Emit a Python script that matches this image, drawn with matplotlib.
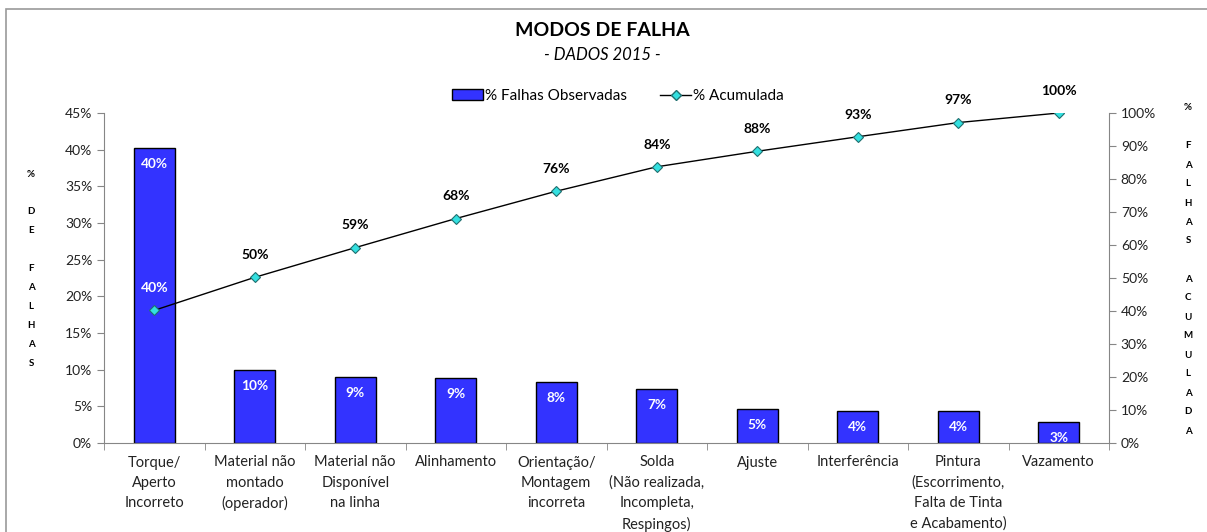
#gráfico de pareto - modos de falha
import matplotlib.pyplot as plt
from matplotlib.patches import Rectangle, Patch
from matplotlib.lines import Line2D
import numpy as np

categorias = [
    "Torque/\nAperto\nIncorreto",
    "Material não\nmontado\n(operador)",
    "Material não\nDisponível\nna linha",
    "Alinhamento",
    "Orientação/\nMontagem\nincorreta",
    "Solda\n(Não realizada,\nIncompleta,\nRespingos)",
    "Ajuste",
    "Interferência",
    "Pintura\n(Escorrimento,\nFalta de Tinta\ne Acabamento)",
    "Vazamento",
]
falhas_pct = [40.2, 10.0, 9.0, 8.8, 8.3, 7.4, 4.7, 4.4, 4.3, 2.9]
acumulada_pct = [40.2, 50.2, 59.2, 68.0, 76.3, 83.7, 88.4, 92.8, 97.1, 100.0]

plt.rcParams["font.family"] = ["Lato", "DejaVu Sans"]

fig = plt.figure(figsize=(12.07, 5.32), dpi=100)
ax = fig.add_axes([104 / 1207, 1 - 443 / 532, (1109 - 104) / 1207, (443 - 113) / 532])
ax2 = ax.twinx()

x = np.arange(len(categorias))
bars = ax.bar(x, falhas_pct, width=0.41, color="#3333FF", edgecolor="black", linewidth=1.0, zorder=2)
ax.set_xlim(-0.5, len(categorias) - 0.5)
ax.set_ylim(0, 45)
ax.set_yticks(np.arange(0, 46, 5))
ax.set_yticklabels([f"{v}%" for v in range(0, 46, 5)])

#rótulos brancos dentro das barras
for b, v in zip(bars, falhas_pct):
    ax.annotate(f"{v:.0f}%", (b.get_x() + b.get_width() / 2, v), xytext=(0, -11.5),
                textcoords="offset points", ha="center", va="center",
                color="white", fontsize=9.8, fontweight="bold")

ax2.plot(x, acumulada_pct, color="black", linewidth=1.0, marker="D", markersize=5.5,
         markerfacecolor="#33E0E0", markeredgecolor="#1f6f6f", markeredgewidth=0.8, zorder=3)
ax2.set_ylim(0, 100)
ax2.set_yticks(np.arange(0, 101, 10))
ax2.set_yticklabels([f"{v}%" for v in range(0, 101, 10)])
for i, v in enumerate(acumulada_pct):
    ax2.annotate(f"{v:.0f}%", (i, v), xytext=(0, 16), textcoords="offset points",
                 ha="center", va="center", fontsize=10, fontweight="bold",
                 color="white" if i == 0 else "black")

#eixo x estilo excel: marcas entre categorias
ax.set_xticks(x)
ax.set_xticklabels(categorias, fontsize=10.5, linespacing=1.55, va="top")
ax.set_xticks(np.arange(-0.5, len(categorias), 1.0), minor=True)
ax.tick_params(axis="x", which="major", length=0, pad=9, colors="#222222")
ax.tick_params(axis="x", which="minor", length=5, color="#868686", direction="out")
ax.tick_params(axis="y", length=5, color="#868686", labelsize=10, labelcolor="#222222")
ax2.tick_params(axis="y", length=5, color="#868686", labelsize=10, labelcolor="#222222")

for a in (ax, ax2):
    a.spines["top"].set_visible(False)
    for s in ("left", "right", "bottom"):
        a.spines[s].set_color("#868686")
ax.spines["right"].set_visible(False)
ax2.spines["left"].set_visible(False)
ax2.spines["bottom"].set_visible(False)

#títulos
fig.text(0.499, 1 - 30 / 532, "MODOS DE FALHA", ha="center", va="center", fontsize=14, fontweight="bold")
fig.text(0.499, 1 - 55 / 532, "- DADOS 2015 -", ha="center", va="center", fontsize=12, style="italic")

handles = [
    Patch(facecolor="#3333FF", edgecolor="black", linewidth=1.0, label="% Falhas Observadas"),
    Line2D([], [], color="black", linewidth=1.0, marker="D", markersize=5.5,
           markerfacecolor="#33E0E0", markeredgecolor="#1f6f6f", label="% Acumulada"),
]
fig.legend(handles=handles, loc="center", bbox_to_anchor=(0.512, 1 - 96 / 532), ncol=2,
           frameon=False, fontsize=11, handlelength=2.0, handletextpad=0.15, columnspacing=2.2)

#títulos dos eixos com letras empilhadas
esq = ["%", "", "D", "E", "", "F", "A", "L", "H", "A", "S"]
for i, ch in enumerate(esq):
    fig.text(31 / 1207, 1 - (174 + i * 18.9) / 532, ch, ha="center", va="center", fontsize=7, fontweight="bold")
dir_ = ["%", "", "F", "A", "L", "H", "A", "S", "", "A", "C", "U", "M", "U", "L", "A", "D", "A"]
for i, ch in enumerate(dir_):
    fig.text(1188 / 1207, 1 - (108 + i * 19.0) / 532, ch, ha="center", va="center", fontsize=7, fontweight="bold")

#moldura do gráfico
fig.patches.append(Rectangle((6 / 1207, -0.05), 1.1, 1 - 9 / 532 + 0.05, transform=fig.transFigure,
                             fill=False, edgecolor="#9a9a9a", linewidth=1.2))

fig.savefig("out.png", dpi=100)
